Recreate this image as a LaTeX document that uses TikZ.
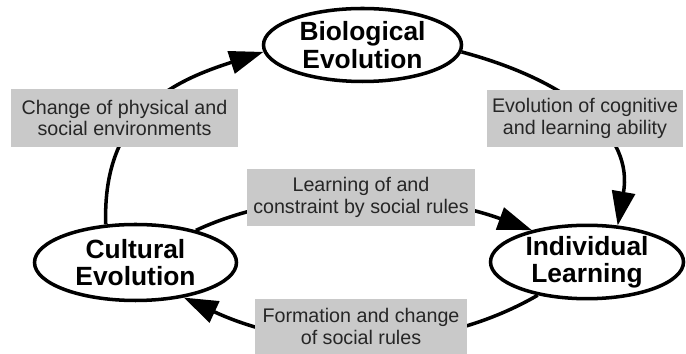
\documentclass[tikz,border=0pt]{standalone}
\usepackage{fontspec}
\setmainfont{Liberation Sans}
\usetikzlibrary{shapes.geometric, arrows.meta}

\begin{document}
\begin{tikzpicture}[
  stage/.style={ellipse, draw, line width=2pt, fill=white, inner sep=0pt,
    align=center, font=\fontsize{15}{15.5}\selectfont\bfseries},
  note/.style={rectangle, fill=black!21, inner sep=0pt, align=center,
    text=black!85, font=\fontsize{11.2}{12.4}\selectfont},
  flow/.style={line width=2pt, -{Triangle[length=6.8mm, width=4.6mm]}}
]
\useasboundingbox (0,0) rectangle (13.72,7.08);

% ========== the three processes ==========
\node[stage, minimum width=3.96cm, minimum height=1.46cm] (bio) at (7.25,6.18) {Biological\\Evolution};
\node[stage, minimum width=4.04cm, minimum height=1.52cm] (cult) at (2.71,1.83) {Cultural\\Evolution};
\node[stage, minimum width=3.86cm, minimum height=1.46cm] (indiv) at (11.74,1.84) {Individual\\Learning};

% ========== influences (the labels sit on top of them) ==========
\draw[flow] (cult.128) to[out=92, in=198, out distance=2.28cm, in distance=1.81cm] (bio.184);
\draw[flow] (bio.-4) to[out=-15, in=80, out distance=2.31cm, in distance=1.82cm] (indiv.50);
\draw[flow] (cult.28) to[out=25, in=160, distance=2.2cm] (indiv.150);
\draw[flow] (indiv.214) to[out=210, in=-25, distance=2.5cm] (cult.-36);

% ========== labels ==========
\node[note, minimum width=4.54cm, minimum height=1.16cm] (env) at (2.49,4.72) {Change of physical and\\social environments};
\node[note, minimum width=3.92cm, minimum height=1.14cm] (cog) at (11.70,4.71) {Evolution of cognitive\\and learning ability};
\node[note, minimum width=4.56cm, minimum height=1.14cm] (learn) at (7.22,3.13) {Learning of and\\constraint by social rules};
\node[note, minimum width=4.24cm, minimum height=1.1cm] (form) at (7.22,0.55) {Formation and change\\of social rules};

\end{tikzpicture}
\end{document}
